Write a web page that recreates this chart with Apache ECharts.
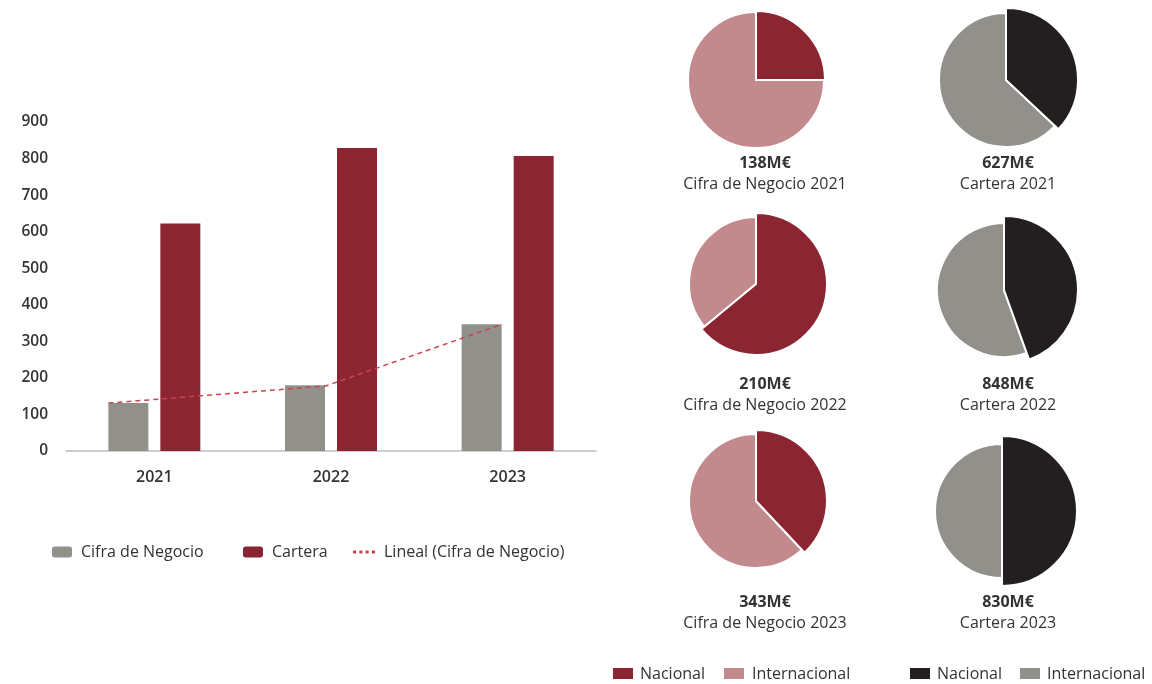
<!DOCTYPE html>
<html>
<head>
<meta charset="utf-8">
<script src="https://cdn.jsdelivr.net/npm/echarts@6/dist/echarts.min.js"></script>
<style>
  html, body { margin: 0; padding: 0; background: #fff; }
  #chart { width: 1152px; height: 684px; }
</style>
</head>
<body>
<div id="chart"></div>
<script>
// datos del gráfico de barras
const years = ['2021', '2022', '2023'];
const cifraNegocio = [131, 180, 347];
const cartera = [622, 829, 807];
// línea de tendencia (posición en categorías, valor)
const trendX = [0.24, 1.47, 2.47];
const trendY = [131, 178, 347];

// datos de las tartas (porcentaje nacional / internacional)
const cifraTotales = [138, 210, 343];
const carteraTotales = [627, 848, 830];
const cifraNacional = [25, 64, 38];
const cifraInternacional = [75, 36, 62];
const carteraNacional = [37, 44.5, 50];
const carteraInternacional = [63, 55.5, 50];

const RED = '#8B2532';
const PINK = '#C38A8D';
const GRAY = '#91908B';
const BLACK = '#231F20';
const TREND = '#C9454F';
const TXT = '#333333';
const FONT = '"Open Sans", "Noto Sans", sans-serif';

// posición de cada tarta: fila por año, columna cifra / cartera
const cifraSpots = [
  { c: [756, 80], rOut: 69, rIn: 68 },
  { c: [756, 284], rOut: 71, rIn: 67 },
  { c: [756, 501], rOut: 71, rIn: 67 }
];
const carteraSpots = [
  { c: [1006, 80], rOut: 72, rIn: 67 },
  { c: [1004, 290], rOut: 74, rIn: 67 },
  { c: [1002, 511], rOut: 75, rIn: 67 }
];
const cifraLabelX = 765;
const carteraLabelX = 1008;
const labelRowsY = [163, 384, 602];

const chart = echarts.init(document.getElementById('chart'));

// dos series por tarta: nacional algo más grande que internacional
function pieSeries(spot, nac, intl, colNac, colInt) {
  const hidden = { color: 'rgba(0,0,0,0)', borderWidth: 0 };
  const base = {
    type: 'pie',
    center: spot.c,
    silent: true,
    startAngle: 90,
    clockwise: true,
    label: { show: false },
    labelLine: { show: false },
    emphasis: { disabled: true },
    animation: false
  };
  return [
    Object.assign({}, base, {
      radius: [0, spot.rIn],
      data: [
        { name: 'Nacional', value: nac, itemStyle: hidden },
        { name: 'Internacional', value: intl, itemStyle: { color: colInt, borderColor: '#fff', borderWidth: 2 } }
      ]
    }),
    Object.assign({}, base, {
      radius: [0, spot.rOut],
      data: [
        { name: 'Nacional', value: nac, itemStyle: { color: colNac, borderColor: '#fff', borderWidth: 2 } },
        { name: 'Internacional', value: intl, itemStyle: hidden }
      ]
    })
  ];
}

const pies = [];
for (let i = 0; i < years.length; i++) {
  pies.push(...pieSeries(cifraSpots[i], cifraNacional[i], cifraInternacional[i], RED, PINK));
  pies.push(...pieSeries(carteraSpots[i], carteraNacional[i], carteraInternacional[i], BLACK, GRAY));
}

// textos bajo cada tarta
const texts = [];
for (let i = 0; i < years.length; i++) {
  const y = labelRowsY[i];
  [[cifraLabelX, cifraTotales[i], 'Cifra de Negocio ' + years[i]],
   [carteraLabelX, carteraTotales[i], 'Cartera ' + years[i]]].forEach(([x, tot, name]) => {
    texts.push({
      type: 'text', silent: true,
      style: { x: x, y: y, text: tot + 'M€', align: 'center', verticalAlign: 'middle',
        font: '700 16px ' + FONT, fill: TXT }
    });
    texts.push({
      type: 'text', silent: true,
      style: { x: x, y: y + 21, text: name, align: 'center', verticalAlign: 'middle',
        font: '400 16px ' + FONT, fill: TXT }
    });
  });
}

// leyendas de las tartas
const pieLegend = [
  { x: 613, color: RED, text: 'Nacional', tx: 640 },
  { x: 724, color: PINK, text: 'Internacional', tx: 752 },
  { x: 910, color: BLACK, text: 'Nacional', tx: 937 },
  { x: 1020, color: GRAY, text: 'Internacional', tx: 1047 }
];
pieLegend.forEach(l => {
  texts.push({ type: 'rect', silent: true, shape: { x: l.x, y: 668, width: 20, height: 11 }, style: { fill: l.color } });
  texts.push({
    type: 'text', silent: true,
    style: { x: l.tx, y: 674, text: l.text, align: 'left', verticalAlign: 'middle',
      font: '400 16px ' + FONT, fill: TXT }
  });
});

// leyenda del gráfico de barras, cada elemento en su sitio
function legendAt(left, name, extra) {
  return Object.assign({
    left: left,
    top: 544,
    padding: 0,
    itemWidth: 20,
    itemHeight: 11,
    selectedMode: false,
    textStyle: { fontFamily: FONT, fontSize: 16, color: TXT, padding: [0, 0, 0, 4] },
    data: [name]
  }, extra || {});
}

const option = {
  backgroundColor: '#fff',
  animation: false,
  grid: { left: 66, right: 556, top: 122, bottom: 233 },
  legend: [
    legendAt(52, 'Cifra de Negocio'),
    legendAt(243, 'Cartera'),
    legendAt(353, {
      name: 'Lineal (Cifra de Negocio)',
      icon: 'path://M0,0h2v2h-2z M4,0h2v2h-2z M8,0h2v2h-2z M12,0h2v2h-2z'
    }, { itemWidth: 22 })
  ],
  xAxis: [
    {
      type: 'category',
      data: years,
      axisLine: { lineStyle: { color: '#BFBFBF', width: 1.5 } },
      axisTick: { show: false },
      axisLabel: { color: TXT, fontFamily: FONT, fontSize: 16, fontWeight: 600, margin: 18 }
    },
    { type: 'value', min: 0, max: 3, show: false }
  ],
  yAxis: {
    type: 'value',
    min: 0,
    max: 900,
    interval: 100,
    splitLine: { show: false },
    axisLine: { show: false },
    axisTick: { show: false },
    axisLabel: { color: TXT, fontFamily: FONT, fontSize: 15.5, fontWeight: 600, margin: 18, padding: [4, 0, 0, 0] }
  },
  series: [
    {
      name: 'Cifra de Negocio', type: 'bar', data: cifraNegocio,
      barWidth: 40, barGap: '30%', itemStyle: { color: GRAY }, silent: true
    },
    {
      name: 'Cartera', type: 'bar', data: cartera,
      barWidth: 40, itemStyle: { color: RED }, silent: true
    },
    {
      name: 'Lineal (Cifra de Negocio)', type: 'line',
      xAxisIndex: 1,
      data: trendX.map((x, i) => [x, trendY[i]]),
      symbol: 'none',
      smooth: false,
      z: 5,
      lineStyle: { color: TREND, width: 1.5, type: [5, 4] },
      itemStyle: { color: TREND },
      silent: true
    },
    ...pies
  ],
  graphic: texts
};

chart.setOption(option);
</script>
</body>
</html>
